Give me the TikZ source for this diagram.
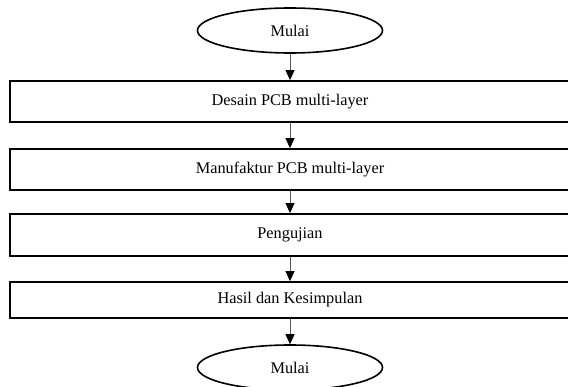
\documentclass[tikz,border=0pt]{standalone}
\usepackage{fontspec}
\setmainfont{Liberation Serif}
\usetikzlibrary{shapes.geometric,arrows.meta}
\begin{document}
\begin{tikzpicture}[x=1pt,y=-1pt,
  term/.style={draw=black,line width=1.6pt,ellipse,minimum width=185pt,minimum height=45pt,inner sep=0pt,font=\fontsize{16.3}{18}\selectfont},
  procbox/.style={draw=black,line width=1.8pt,rectangle,minimum width=560pt,inner sep=0pt,font=\fontsize{16.3}{18}\selectfont},
  flow/.style={draw=black!65,line width=0.8pt,-{Triangle[length=10pt,width=9pt,fill=black,color=black]}}]
\useasboundingbox (0,0) rectangle (568,387);
\clip (0,0) rectangle (568,387);
\node[term] (start) at (290,30.5) {Mulai};
\node[procbox,minimum height=41pt] (b1) at (290,101.5) {Desain PCB multi-layer};
\node[procbox,minimum height=41pt] (b2) at (290,169.5) {Manufaktur PCB multi-layer};
\node[procbox,minimum height=42pt] (b3) at (290,235) {Pengujian};
\node[procbox,minimum height=36pt] (b4) at (290,300) {Hasil dan Kesimpulan};
\node[term] (end) at (290,367.5) {Mulai};
\draw[flow] (start) -- (b1);
\draw[flow] (b1) -- (b2);
\draw[flow] (b2) -- (b3);
\draw[flow] (b3) -- (b4);
\draw[flow] (b4) -- (end);
\end{tikzpicture}
\end{document}
